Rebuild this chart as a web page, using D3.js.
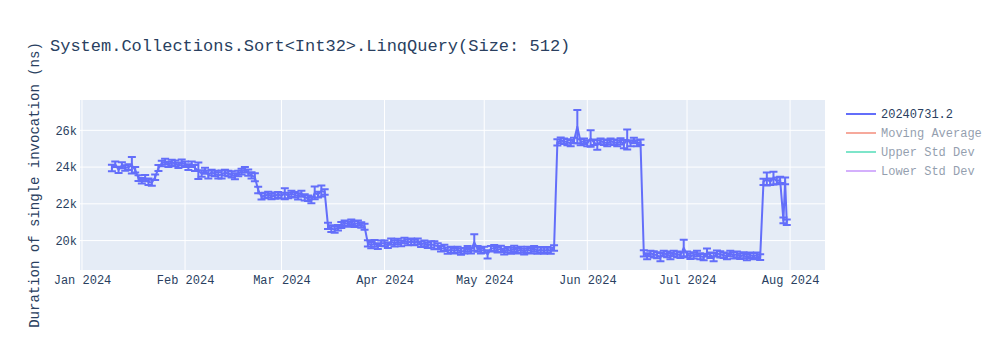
<!DOCTYPE html>
<html><head><meta charset="utf-8">
<script src="https://cdn.jsdelivr.net/npm/d3@7"></script>
<style>body{margin:0;background:#fff}svg{display:block}</style>
</head><body><svg id="c" width="1000" height="350"></svg>
<script>
const chartTitle = "System.Collections.Sort<Int32>.LinqQuery(Size: 512)";
const yAxisTitle = "Duration of single invocation (ns)";
const seriesNames = ["20240731.2", "Moving Average", "Upper Std Dev", "Lower Std Dev"];
const seriesColors = ["#636efa", "#EF553B", "#00cc96", "#ab63fa"];
const seriesVisible = [true, false, false, false];
const xTickDates = ["2024-01-01","2024-02-01","2024-03-01","2024-04-01","2024-05-01","2024-06-01","2024-07-01","2024-08-01"];
const yTickValues = [20000, 22000, 24000, 26000];

const dates = [
"2024-01-10","2024-01-11","2024-01-12","2024-01-13","2024-01-14","2024-01-15","2024-01-16","2024-01-17","2024-01-18","2024-01-19","2024-01-20","2024-01-21","2024-01-22","2024-01-23","2024-01-24","2024-01-25","2024-01-26","2024-01-27","2024-01-28","2024-01-29","2024-01-30","2024-01-31",
"2024-02-01","2024-02-02","2024-02-03","2024-02-04","2024-02-05","2024-02-06","2024-02-07","2024-02-08","2024-02-09","2024-02-10","2024-02-11","2024-02-12","2024-02-13","2024-02-14","2024-02-15","2024-02-16","2024-02-17","2024-02-18","2024-02-19","2024-02-20","2024-02-21","2024-02-22","2024-02-23","2024-02-24","2024-02-25","2024-02-26","2024-02-27","2024-02-28","2024-02-29",
"2024-03-01","2024-03-02","2024-03-03","2024-03-04","2024-03-05","2024-03-06","2024-03-07","2024-03-08","2024-03-09","2024-03-10","2024-03-11","2024-03-12","2024-03-13","2024-03-14","2024-03-15","2024-03-16","2024-03-17","2024-03-18","2024-03-19","2024-03-20","2024-03-21","2024-03-22","2024-03-23","2024-03-24","2024-03-25","2024-03-26","2024-03-27","2024-03-28","2024-03-29","2024-03-30","2024-03-31",
"2024-04-01","2024-04-02","2024-04-03","2024-04-04","2024-04-05","2024-04-06","2024-04-07","2024-04-08","2024-04-09","2024-04-10","2024-04-11","2024-04-12","2024-04-13","2024-04-14","2024-04-15","2024-04-16","2024-04-17","2024-04-18","2024-04-19","2024-04-20","2024-04-21","2024-04-22","2024-04-23","2024-04-24","2024-04-25","2024-04-26","2024-04-27","2024-04-28","2024-04-29","2024-04-30",
"2024-05-01","2024-05-02","2024-05-03","2024-05-04","2024-05-05","2024-05-06","2024-05-07","2024-05-08","2024-05-09","2024-05-10","2024-05-11","2024-05-12","2024-05-13","2024-05-14","2024-05-15","2024-05-16","2024-05-17","2024-05-18","2024-05-19","2024-05-20","2024-05-21","2024-05-22","2024-05-23","2024-05-24","2024-05-25","2024-05-26","2024-05-27","2024-05-28","2024-05-29","2024-05-30","2024-05-31",
"2024-06-01","2024-06-02","2024-06-03","2024-06-04","2024-06-05","2024-06-06","2024-06-07","2024-06-08","2024-06-09","2024-06-10","2024-06-11","2024-06-12","2024-06-13","2024-06-14","2024-06-15","2024-06-16","2024-06-17","2024-06-18","2024-06-19","2024-06-20","2024-06-21","2024-06-22","2024-06-23","2024-06-24","2024-06-25","2024-06-26","2024-06-27","2024-06-28","2024-06-29","2024-06-30",
"2024-07-01","2024-07-02","2024-07-03","2024-07-04","2024-07-05","2024-07-06","2024-07-07","2024-07-08","2024-07-09","2024-07-10","2024-07-11","2024-07-12","2024-07-13","2024-07-14","2024-07-15","2024-07-16","2024-07-17","2024-07-18","2024-07-19","2024-07-20","2024-07-21","2024-07-22","2024-07-23","2024-07-24","2024-07-25","2024-07-26","2024-07-27","2024-07-28","2024-07-29","2024-07-30","2024-07-30T12:00","2024-07-31"
];

const values = [
23950,24150,23850,24100,23950,24000,24100,23850,23400,23250,23400,23200,23150,23450,23950,24200,24300,24150,24250,24200,24100,24250,
24150,24000,24150,23950,23800,23650,23800,23600,23700,23650,23550,23600,23700,23650,23600,23500,23650,23750,23850,23700,23550,23450,22750,22400,22450,22500,22400,22450,22500,
22450,22550,22450,22550,22500,22400,22550,22350,22300,22200,22600,22500,22700,22650,20800,20650,20600,20700,20850,20950,20900,21000,20900,20950,20850,20750,19850,19750,19850,19700,19850,
19850,19750,19950,19850,19950,19850,20000,19900,19950,19900,19950,19800,19850,19750,19800,19750,19700,19550,19600,19450,19500,19450,19500,19400,19450,19550,19450,19900,19550,19450,
19500,19250,19550,19600,19500,19550,19400,19500,19450,19550,19450,19500,19400,19500,19450,19550,19450,19500,19450,19500,19450,19600,25350,25450,25400,25350,25300,25450,26200,25350,25400,
25300,25550,25350,25200,25400,25350,25300,25400,25350,25300,25400,25250,25500,25300,25450,25300,25350,19300,19150,19300,19250,19200,19100,19300,19250,19150,19300,19250,19200,19600,
19250,19150,19200,19300,19150,19100,19350,19200,19100,19300,19250,19200,19150,19300,19200,19250,19150,19200,19100,19200,19150,19200,19100,23200,23350,23200,23400,23250,23300,21100,23250,21000
];

const errors = [
180,150,170,160,150,160,450,150,160,150,170,180,160,150,160,150,160,140,150,160,150,160,
150,160,150,170,450,180,160,220,160,150,170,220,160,150,170,160,150,160,150,170,170,220,180,170,150,160,150,170,150,
160,300,150,160,150,170,160,170,150,170,350,160,300,150,170,180,170,150,160,150,140,150,160,140,150,160,170,170,180,160,150,
160,150,170,170,150,160,150,160,170,150,160,150,160,150,170,220,160,150,170,170,160,150,160,170,150,160,150,450,160,150,
160,220,150,160,150,170,160,150,160,170,150,160,150,170,150,160,170,150,160,150,160,150,170,160,150,160,170,150,900,160,150,
160,450,150,260,160,150,170,160,150,160,170,220,550,160,150,160,150,170,160,150,170,160,220,150,160,170,150,160,150,450,
160,150,170,150,160,170,220,150,220,160,170,150,160,150,170,160,150,160,170,150,160,150,160,170,350,180,350,180,170,150,180,150
];

const parseDay = d3.utcParse("%Y-%m-%d");
const parseDT = d3.utcParse("%Y-%m-%dT%H:%M");
const parse = s => parseDay(s) || parseDT(s);

const font = "'Liberation Mono', 'Courier New', monospace";
const ink = "#2a3f5f";
const svg = d3.select("#c");

const plot = {left: 80, right: 825, top: 100, bottom: 270};

const x = d3.scaleUtc()
  .domain([parse("2023-12-31T09:36"), parse("2024-08-11T12:00")])
  .range([plot.left, plot.right]);
const y = d3.scaleLinear()
  .domain([18400, 27650])
  .range([plot.bottom, plot.top]);

svg.append("rect").attr("width", 1000).attr("height", 350).attr("fill", "#fff");
svg.append("rect")
  .attr("x", plot.left).attr("y", plot.top)
  .attr("width", plot.right - plot.left).attr("height", plot.bottom - plot.top)
  .attr("fill", "#E5ECF6");

const xt = xTickDates.map(parse);
svg.append("g").selectAll("line").data(xt).join("line")
  .attr("x1", d => x(d)).attr("x2", d => x(d))
  .attr("y1", plot.top).attr("y2", plot.bottom)
  .attr("stroke", "#fff").attr("stroke-width", 1);
svg.append("g").selectAll("line").data(yTickValues).join("line")
  .attr("x1", plot.left).attr("x2", plot.right)
  .attr("y1", d => y(d)).attr("y2", d => y(d))
  .attr("stroke", "#fff").attr("stroke-width", 1);

const xAxis = d3.axisBottom(x).tickValues(xt).tickFormat(d3.utcFormat("%b %Y")).tickSize(0).tickPadding(0);
const gx = svg.append("g").attr("transform", `translate(0,${plot.bottom})`).call(xAxis);
gx.select(".domain").remove();
gx.selectAll("text").attr("font-family", font).attr("font-size", 12).attr("fill", ink)
  .attr("dy", null).attr("y", 14);

const yAxis = d3.axisLeft(y).tickValues(yTickValues).tickFormat(d => (d / 1000) + "k").tickSize(0).tickPadding(3);
const gy = svg.append("g").attr("transform", `translate(${plot.left},0)`).call(yAxis);
gy.select(".domain").remove();
gy.selectAll("text").attr("font-family", font).attr("font-size", 12).attr("fill", ink);

const pts = dates.map((d, i) => ({t: parse(d), v: values[i], e: errors[i]}));
svg.append("clipPath").attr("id", "clp").append("rect")
  .attr("x", plot.left).attr("y", plot.top)
  .attr("width", plot.right - plot.left).attr("height", plot.bottom - plot.top);
const gData = svg.append("g").attr("clip-path", "url(#clp)");
const col = seriesColors[0];
const hw = 4;

gData.append("g").selectAll("path").data(pts).join("path")
  .attr("d", p => {
    const cx = x(p.t), y1 = y(p.v + p.e), y0 = y(p.v - p.e);
    return `M${cx},${y1}V${y0}M${cx - hw},${y1}h${2 * hw}M${cx - hw},${y0}h${2 * hw}`;
  })
  .attr("fill", "none").attr("stroke", col).attr("stroke-width", 2);

const line = d3.line().x(p => x(p.t)).y(p => y(p.v));
gData.append("path").datum(pts).attr("d", line)
  .attr("fill", "none").attr("stroke", col).attr("stroke-width", 2)
  .attr("stroke-linejoin", "round");

svg.append("text").attr("x", 50).attr("y", 51)
  .attr("font-family", font).attr("font-size", 17).attr("fill", ink)
  .text(chartTitle);

svg.append("text")
  .attr("transform", `translate(39,${(plot.top + plot.bottom) / 2}) rotate(-90)`)
  .attr("text-anchor", "middle")
  .attr("font-family", font).attr("font-size", 14).attr("fill", ink)
  .text(yAxisTitle);

const lg = svg.append("g");
seriesNames.forEach((n, i) => {
  const cy = 114 + i * 19;
  const g = lg.append("g").attr("opacity", seriesVisible[i] ? 1 : 0.5);
  g.append("line").attr("x1", 846).attr("x2", 876).attr("y1", cy).attr("y2", cy)
    .attr("stroke", seriesColors[i]).attr("stroke-width", 2);
  g.append("text").attr("x", 881).attr("y", cy + 4)
    .attr("font-family", font).attr("font-size", 12).attr("fill", ink).text(n);
});
</script>
</body></html>
